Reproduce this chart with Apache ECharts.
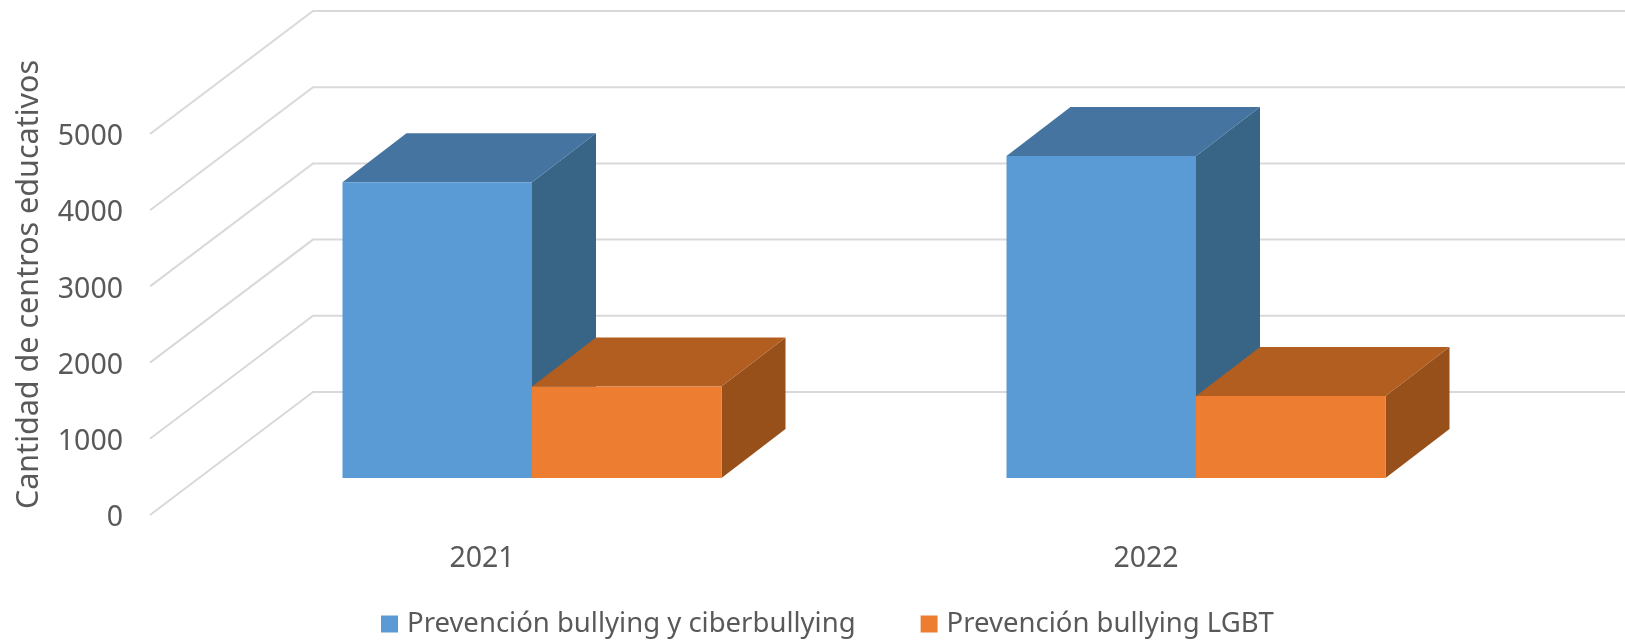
<!DOCTYPE html>
<html><head><meta charset="utf-8">
<style>html,body{margin:0;padding:0;background:#fff}#c{width:1625px;height:640px}</style>
<script src="https://cdn.jsdelivr.net/npm/echarts@6/dist/echarts.min.js"></script>
</head><body><div id="c"></div>
<script>
const categories = ['2021', '2022'];
const tickValues = [0, 1000, 2000, 3000, 4000, 5000];
const bullyingValues = [3880, 4225];
const lgbtValues = [1200, 1075];
const bullyingName = 'Prevención bullying y ciberbullying';
const lgbtName = 'Prevención bullying LGBT';
const axisTitle = 'Cantidad de centros educativos';

const FONT = '"Noto Sans"';
const TEXT = '#595959';
const FLOOR = [163, -123];     // full depth of the floor
const INSET = [50, -37];       // front of the bars from the front edge of the floor
const DEPTH = [64, -49];       // depth of a bar
const BAR_W = 189.5;

function box(side, front, top, rightFace) {
  return function (params, api) {
    const base = api.coord([api.value(0), 0]);
    const head = api.coord([api.value(0), api.value(1)]);
    const cx = base[0] + INSET[0];
    const x0 = side < 0 ? cx - BAR_W : cx;
    const x1 = x0 + BAR_W;
    const yb = base[1] + INSET[1];
    const yt = head[1] + INSET[1];
    const dx = DEPTH[0], dy = DEPTH[1];
    return {
      type: 'group',
      children: [
        { type: 'polygon', shape: { points: [[x1, yt], [x1 + dx, yt + dy], [x1 + dx, yb + dy], [x1, yb]] }, style: { fill: rightFace } },
        { type: 'polygon', shape: { points: [[x0, yt], [x0 + dx, yt + dy], [x1 + dx, yt + dy], [x1, yt]] }, style: { fill: top } },
        { type: 'rect', shape: { x: x0, y: yt, width: BAR_W, height: yb - yt }, style: { fill: front } }
      ]
    };
  };
}

function wall(params, api) {
  const p = api.coord([0, api.value(0)]);
  const cs = params.coordSys;
  const x0 = cs.x, y0 = p[1];
  return {
    type: 'polyline',
    shape: { points: [[x0, y0], [x0 + FLOOR[0], y0 + FLOOR[1]], [cs.x + cs.width + FLOOR[0], y0 + FLOOR[1]]] },
    style: { stroke: '#D9D9D9', lineWidth: 2, fill: null }
  };
}

const chart = echarts.init(document.getElementById('c'), null, { renderer: 'canvas' });
chart.setOption({
  animation: false,
  backgroundColor: '#fff',
  textStyle: { fontFamily: FONT },
  grid: { left: 150, top: 134, width: 1328, height: 381, containLabel: false, outerBoundsMode: 'none' },
  legend: {
    left: 381, top: 610, padding: 0, itemWidth: 17, itemHeight: 17, itemGap: 65, icon: 'rect',
    textStyle: { fontFamily: FONT, fontSize: 27.5, color: TEXT, padding: [0, 0, 0, 4] },
    data: [bullyingName, lgbtName]
  },
  xAxis: {
    type: 'category', data: categories,
    axisLine: { show: false }, axisTick: { show: false }, splitLine: { show: false },
    axisLabel: { fontFamily: FONT, fontSize: 28.5, color: TEXT, margin: 29 }
  },
  yAxis: {
    type: 'value', min: 0, max: 5000, interval: 1000,
    axisLine: { show: false }, axisTick: { show: false }, splitLine: { show: false },
    axisLabel: {
      margin: 27, formatter: v => '{n|' + v + '}',
      rich: { n: { fontFamily: FONT, fontSize: 28.5, color: TEXT, padding: [6, 0, 0, 0] } }
    },
    name: axisTitle, nameLocation: 'middle', nameGap: 105, nameRotate: 90,
    nameTextStyle: { fontFamily: FONT, fontSize: 30.5, color: TEXT, padding: [0, 0, 0, 80] }
  },
  series: [
    { type: 'custom', silent: true, renderItem: wall, data: tickValues.map(v => [v]), encode: { y: 0 }, z: 1, clip: false },
    { type: 'custom', name: bullyingName, renderItem: box(-1, '#5B9BD5', '#44749F', '#386486'),
      itemStyle: { color: '#5B9BD5' }, data: categories.map((c, i) => [i, bullyingValues[i]]), encode: { x: 0, y: 1 }, z: 2, clip: false },
    { type: 'custom', name: lgbtName, renderItem: box(1, '#ED7D31', '#B25E20', '#98501B'),
      itemStyle: { color: '#ED7D31' }, data: categories.map((c, i) => [i, lgbtValues[i]]), encode: { x: 0, y: 1 }, z: 3, clip: false }
  ]
});
</script></body></html>
